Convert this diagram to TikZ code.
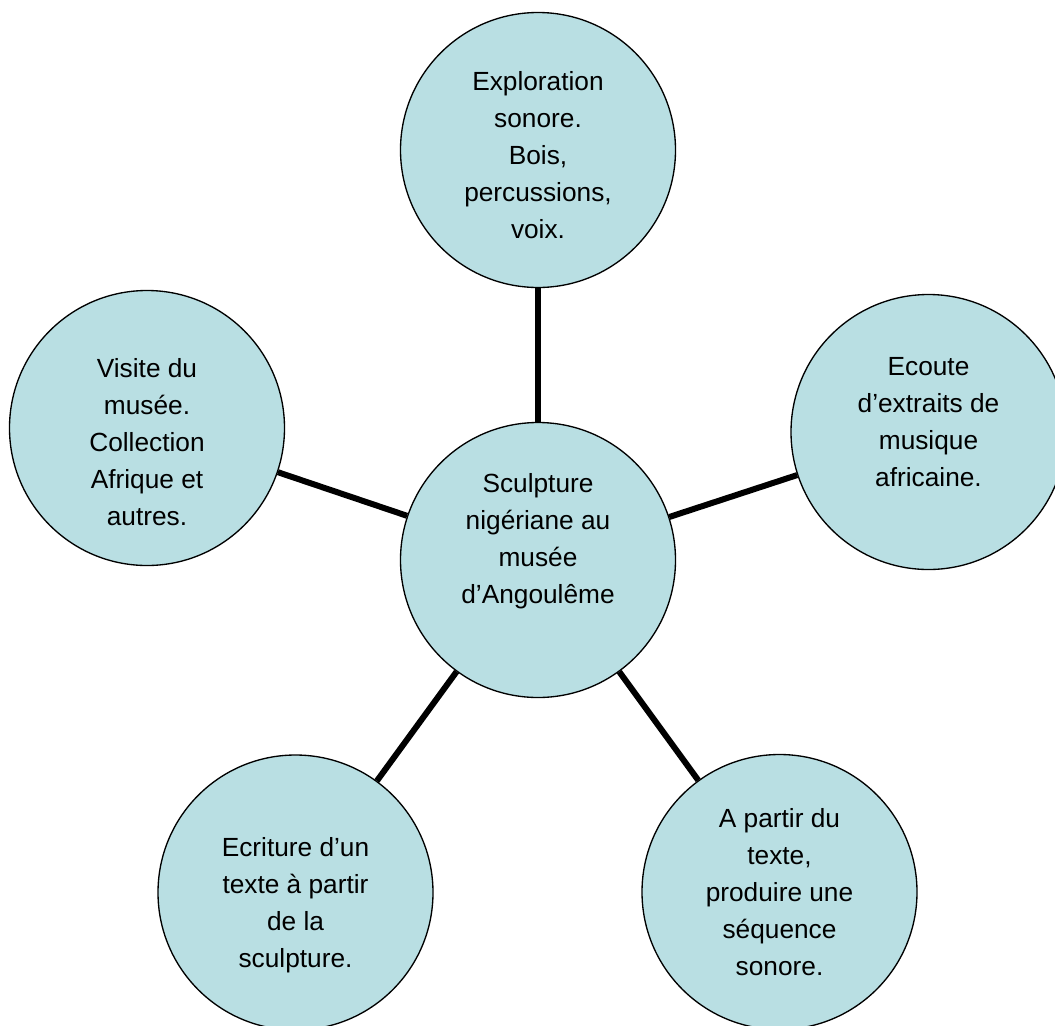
\documentclass[tikz,border=0pt]{standalone}
\usepackage{fontspec}
\setmainfont{Liberation Sans}
\definecolor{bullefond}{RGB}{185,223,227}
\begin{document}
\begin{tikzpicture}[x=.75pt, y=-.75pt, line join=round,
	bulle/.style={circle, draw, line width=1pt, fill=bullefond, minimum size=206.25pt, inner sep=0pt},
	txt/.style={align=center, font=\fontsize{19.7pt}{27.75pt}\selectfont},
	lien/.style={line width=4.5pt}]
	\clip (0,0) rectangle (1055,1025);
	\node[bulle, label={[txt, yshift=13.9pt]center:{Sculpture\\nigériane au\\musée\\d’Angoulême}}] (hub) at (538,560) {};
	\node[bulle, label={[txt, yshift=-3.75pt]center:{Exploration\\sonore.\\Bois,\\percussions,\\voix.}}] (explo) at (538,150) {};
	\node[bulle, label={[txt, yshift=-10.5pt]center:{Visite du\\musée.\\Collection\\Afrique et\\autres.}}] (visite) at (147,428) {};
	\node[bulle, label={[txt, yshift=7.1pt]center:{Ecoute\\d’extraits de\\musique\\africaine.}}] (ecoute) at (928.5,432) {};
	\node[bulle, label={[txt, yshift=-9.4pt]center:{Ecriture d’un\\texte à partir\\de la\\sculpture.}}] (ecriture) at (295.5,892.5) {};
	\node[bulle, label={[txt]center:{A partir du\\texte,\\produire une\\séquence\\sonore.}}] (sequence) at (779.5,892) {};
	\foreach \n in {explo,ecoute,sequence,ecriture,visite}
		\draw[lien] (hub) -- (\n);
\end{tikzpicture}
\end{document}
